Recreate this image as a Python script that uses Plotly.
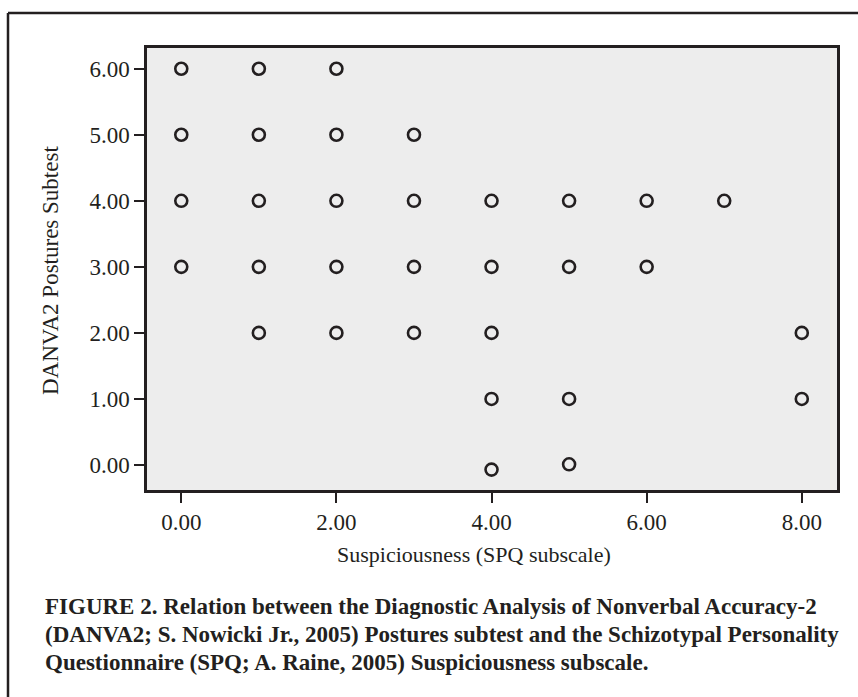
import plotly.graph_objects as go

# Data (SPQ suspiciousness vs DANVA2 postures)
suspiciousness = [0, 1, 2,
                  0, 1, 2, 3,
                  0, 1, 2, 3, 4, 5, 6, 7,
                  0, 1, 2, 3, 4, 5, 6,
                  1, 2, 3, 4, 8,
                  4, 5, 8,
                  4, 5]
postures = [6, 6, 6,
            5, 5, 5, 5,
            4, 4, 4, 4, 4, 4, 4, 4,
            3, 3, 3, 3, 3, 3, 3,
            2, 2, 2, 2, 2,
            1, 1, 1,
            -0.07, 0.01]

x_ticks = [0, 2, 4, 6, 8]
x_tick_labels = ["0.00", "2.00", "4.00", "6.00", "8.00"]
y_ticks = [0, 1, 2, 3, 4, 5, 6]
y_tick_labels = ["0.00", "1.00", "2.00", "3.00", "4.00", "5.00", "6.00"]

x_title = "Suspiciousness (SPQ subscale)"
y_title = "DANVA2 Postures Subtest"
caption_lines = [
    "FIGURE 2. Relation between the Diagnostic Analysis of Nonverbal Accuracy-2",
    "(DANVA2; S. Nowicki Jr., 2005) Postures subtest and the Schizotypal Personality",
    "Questionnaire (SPQ; A. Raine, 2005) Suspiciousness subscale.",
]

W, H = 858, 697
L, R, T, B = 147, 837, 48, 490
pw, ph = R - L, B - T

def px(x):
    return (x - L) / pw

def py(y):
    return (B - y) / ph

INK = "#231f20"
SERIF = "Liberation Serif, Times New Roman, serif"

fig = go.Figure()
fig.add_trace(go.Scatter(
    x=suspiciousness, y=postures, mode="markers",
    marker=dict(symbol="circle-open", size=12, color=INK,
                line=dict(width=2.6, color=INK)),
    showlegend=False, hoverinfo="x+y",
))

fig.update_xaxes(
    range=[-0.442, 8.454], tickvals=x_ticks, ticktext=x_tick_labels,
    showgrid=False, zeroline=False, showline=True, linecolor=INK, linewidth=2.5,
    mirror=True, ticks="outside", ticklen=10, tickwidth=2, tickcolor=INK,
    tickfont=dict(family=SERIF, size=23, color=INK),
)
fig.update_yaxes(
    range=[-0.379, 6.314], tickvals=y_ticks, ticktext=y_tick_labels,
    showgrid=False, zeroline=False, showline=True, linecolor=INK, linewidth=2.5,
    mirror=True, ticks="outside", ticklen=10, tickwidth=2, tickcolor=INK,
    tickfont=dict(family=SERIF, size=23, color=INK),
)

annotations = [
    dict(text=x_title, x=px(474), y=py(554), xref="paper", yref="paper",
         xanchor="center", yanchor="middle", showarrow=False,
         font=dict(family=SERIF, size=22, color=INK)),
    dict(text=y_title, x=px(50), y=py(271), xref="paper", yref="paper",
         xanchor="center", yanchor="middle", textangle=-90, showarrow=False,
         font=dict(family=SERIF, size=23, color=INK)),
]
line_centers = [606, 634, 662]
for txt, yc in zip(caption_lines, line_centers):
    annotations.append(dict(
        text="<b>" + txt + "</b>", x=px(43), y=py(yc), xref="paper", yref="paper",
        xanchor="left", yanchor="middle", showarrow=False,
        font=dict(family=SERIF, size=23, color=INK)))

shapes = [
    dict(type="line", xref="paper", yref="paper", x0=px(8), x1=px(8),
         y0=py(13), y1=py(700), line=dict(color=INK, width=2.5)),
    dict(type="line", xref="paper", yref="paper", x0=px(8), x1=px(860),
         y0=py(13), y1=py(13), line=dict(color=INK, width=2.5)),
]

fig.update_layout(
    width=W, height=H,
    margin=dict(l=L, r=W - R, t=T, b=H - B, autoexpand=False),
    paper_bgcolor="white", plot_bgcolor="#ededed",
    annotations=annotations, shapes=shapes,
    font=dict(family=SERIF, color=INK),
)

fig.write_html("out.html", config={"displayModeBar": False},
               post_script="document.body.style.margin='0';document.body.style.overflow='hidden';")
